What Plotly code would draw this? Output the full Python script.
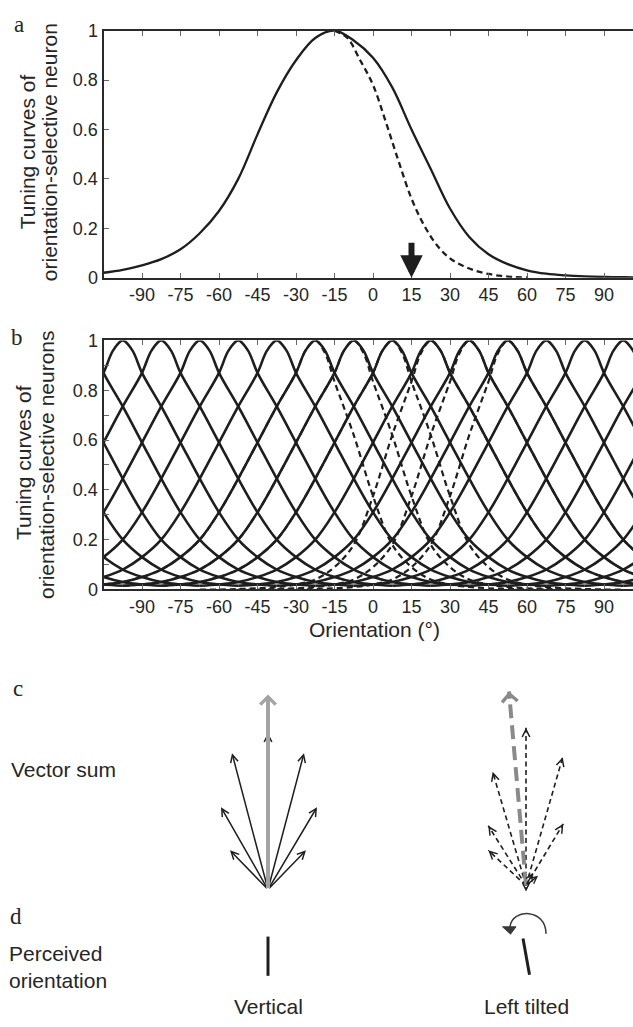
import plotly.graph_objects as go

W, H = 633, 1027

# ---------------- data ----------------
tick_vals = [-90, -75, -60, -45, -30, -15, 0, 15, 30, 45, 60, 75, 90]
tick_text = ["-90", "-75", "-60", "-45", "-30", "-15", "0", "15", "30", "45", "60", "75", "90"]
y_tick_vals = [0, 0.2, 0.4, 0.6, 0.8, 1]
y_tick_text = ["0", "0.2", "0.4", "0.6", "0.8", "1"]

# panel a: one neuron (preferred -15 deg), before (solid) and after adaptation (dashed)
a_orient = [-105, -97.5, -90, -82.5, -75, -67.5, -60, -52.5, -45, -37.5, -30, -22.5, -15,
            -7.5, 0, 7.5, 15, 22.5, 30, 37.5, 45, 52.5, 60, 67.5, 75, 82.5, 90, 97.5, 105]
a_before = [0.02, 0.032, 0.05, 0.075, 0.115, 0.18, 0.27, 0.40, 0.58, 0.75, 0.88, 0.97, 1.0,
            0.96, 0.89, 0.77, 0.60, 0.44, 0.28, 0.165, 0.095, 0.055, 0.03, 0.016, 0.009,
            0.005, 0.003, 0.002, 0.001]
a_after_orient = [-15, -10, -5, 0, 5, 10, 15, 20, 25, 30, 35, 40, 45, 50, 55, 60]
a_after = [1.0, 0.97, 0.88, 0.78, 0.63, 0.47, 0.32, 0.21, 0.13, 0.078, 0.048, 0.028, 0.015,
           0.007, 0.003, 0.001]
adaptor_orient = 15
adaptor_arrow_top = 0.147

# panel b: population of neurons, tuning profile vs distance from preferred orientation
b_delta = [0, 3.75, 7.5, 15, 22.5, 30, 37.5, 45, 52.5, 60, 67.5, 75, 82.5, 90]
b_tuning = [1.0, 0.96, 0.87, 0.735, 0.59, 0.445, 0.31, 0.20, 0.13, 0.08, 0.05, 0.03, 0.02, 0.015]
b_narrowed = [1.0, 0.95, 0.835, 0.62, 0.375, 0.18, 0.09, 0.04, 0.02, 0.01, 0.005, 0.002, 0.0, 0.0]
b_prefs = [-187.5, -172.5, -157.5, -142.5, -127.5, -112.5, -97.5, -82.5, -67.5, -52.5, -37.5,
           -22.5, -7.5, 7.5, 22.5, 37.5, 52.5, 67.5, 82.5, 97.5, 112.5, 127.5, 142.5, 157.5,
           172.5, 187.5]
b_adapted_right_narrow = [-22.5, -7.5, 7.5]   # flank toward adaptor (right) narrowed
b_adapted_left_narrow = [22.5, 37.5, 52.5]    # flank toward adaptor (left) narrowed

# panel c: vector sums (diagram, pixel coordinates)
c_left_origin = (268, 897)
c_left_sum_tip = (268, 698)
c_left_tips_x = [268, 232, 304, 221, 317, 230, 306]
c_left_tips_y = [737, 758, 758, 813, 813, 857, 857]
c_right_origin = (526, 893)
c_right_sum_tip = (509, 695)
c_right_tips_x = [526, 492.7, 562.7, 488.3, 563.3, 488.3]
c_right_tips_y = [732, 777, 762, 832, 830, 857]
c_right_small_tips_x = [538, 533, 526]
c_right_small_tips_y = [883, 880, 899]

# panel d: perceived orientation bars
d_vertical_bar = ((268, 945), (268, 985))
d_tilted_bar = ((523, 947), (529.5, 984))
d_rot_arc = "M 546,942 C 546,916 512,916 510,935"
d_rot_head = "M 502.5,935 L 516,935 L 510.5,942.5 Z"

# ---------------- helpers ----------------
def px(x):
    return x / W


def py(y):
    return 1 - y / H


INK = "#1e1e1e"
TXT = "#262626"
SANS = "Liberation Sans, Arial, sans-serif"
SERIF = "Liberation Serif, Times New Roman, serif"

X_LEFT = 103.5
DEG_PX = 462 / 180
XMIN = -105
XMAX = XMIN + (W - X_LEFT) / DEG_PX

A_TOP, A_BOT = 21, 273
B_TOP, B_BOT = 337, 591
DIAG_TOP = 640

fig = go.Figure()

# ---------- panel a ----------
fig.add_trace(go.Scatter(x=a_orient, y=a_before, mode="lines",
                         line=dict(color=INK, width=2.3, shape="spline", smoothing=1),
                         xaxis="x", yaxis="y", hoverinfo="skip", showlegend=False))
fig.add_trace(go.Scatter(x=a_after_orient, y=a_after, mode="lines",
                         line=dict(color=INK, width=2.3, dash="6px,4px", shape="spline", smoothing=1),
                         xaxis="x", yaxis="y", hoverinfo="skip", showlegend=False))

# ---------- panel b ----------
def full_curve(pref, left_prof, right_prof):
    xs = [pref - d for d in reversed(b_delta[1:])] + [pref + d for d in b_delta]
    ys = list(reversed(left_prof[1:])) + list(right_prof)
    return xs, ys


for p in b_prefs:
    xs, ys = full_curve(p, b_tuning, b_tuning)
    fig.add_trace(go.Scatter(x=xs, y=ys, mode="lines",
                             line=dict(color=INK, width=2.6, shape="spline", smoothing=1),
                             xaxis="x2", yaxis="y2", hoverinfo="skip", showlegend=False))
for p in b_adapted_right_narrow:
    xs, ys = full_curve(p, b_tuning, b_narrowed)
    fig.add_trace(go.Scatter(x=xs, y=ys, mode="lines",
                             line=dict(color=INK, width=2.2, dash="6px,4px", shape="spline", smoothing=1),
                             xaxis="x2", yaxis="y2", hoverinfo="skip", showlegend=False))
for p in b_adapted_left_narrow:
    xs, ys = full_curve(p, b_narrowed, b_tuning)
    fig.add_trace(go.Scatter(x=xs, y=ys, mode="lines",
                             line=dict(color=INK, width=2.2, dash="6px,4px", shape="spline", smoothing=1),
                             xaxis="x2", yaxis="y2", hoverinfo="skip", showlegend=False))

# ---------- panel c dashed shafts ----------
ox, oy = c_right_origin
sx, sy = c_right_sum_tip
for tx, ty in zip(c_right_tips_x, c_right_tips_y):
    fig.add_trace(go.Scatter(x=[ox, tx], y=[oy, ty], mode="lines",
                             line=dict(color=INK, width=1.6, dash="5px,3.5px"),
                             xaxis="x3", yaxis="y3", hoverinfo="skip", showlegend=False))
fig.add_trace(go.Scatter(x=[ox, sx], y=[oy, sy], mode="lines",
                         line=dict(color="#8a8a8a", width=4, dash="14px,7px"),
                         xaxis="x3", yaxis="y3", hoverinfo="skip", showlegend=False))

# ---------- panel d bars ----------
for (x0, y0), (x1, y1) in [d_vertical_bar, d_tilted_bar]:
    fig.add_trace(go.Scatter(x=[x0, x1], y=[y0, y1], mode="lines",
                             line=dict(color=INK, width=3),
                             xaxis="x3", yaxis="y3", hoverinfo="skip", showlegend=False))

annotations = []


def arrow(tip, tail, color, width, head, size):
    annotations.append(dict(x=tip[0], y=tip[1], ax=tail[0], ay=tail[1],
                            xref="x3", yref="y3", axref="x3", ayref="y3",
                            showarrow=True, arrowhead=head, arrowsize=size,
                            arrowwidth=width, arrowcolor=color, text=""))


def short_tail(tip, origin, length):
    dx, dy = tip[0] - origin[0], tip[1] - origin[1]
    n = (dx * dx + dy * dy) ** 0.5
    return (tip[0] - dx / n * length, tip[1] - dy / n * length)


# left fan: black vectors then gray solid sum on top
for tx, ty in zip(c_left_tips_x, c_left_tips_y):
    arrow((tx, ty), c_left_origin, INK, 1.5, 5, 1.0)
arrow(c_left_sum_tip, c_left_origin, "#a3a3a3", 4, 4, 0.75)
# right fan heads
for tx, ty in zip(c_right_tips_x, c_right_tips_y):
    arrow((tx, ty), short_tail((tx, ty), c_right_origin, 6), INK, 1.5, 5, 1.0)
for tx, ty in zip(c_right_small_tips_x, c_right_small_tips_y):
    arrow((tx, ty), c_right_origin, INK, 1.5, 5, 0.9)
arrow(c_right_sum_tip, short_tail(c_right_sum_tip, c_right_origin, 9), "#8a8a8a", 4, 4, 0.75)


def text(t, x, y, size=21, family=SANS, xanchor="center", angle=0):
    annotations.append(dict(text=t, x=px(x), y=py(y), xref="paper", yref="paper",
                            showarrow=False, xanchor=xanchor, yanchor="middle",
                            textangle=angle, font=dict(family=family, size=size, color=TXT)))


text("a", 19, 15, 23, SERIF)
text("b", 17, 334, 23, SERIF)
text("c", 18, 692, 23, SERIF)
text("d", 16, 924, 23, SERIF)
text("Tuning curves of", 27, 145, angle=-90)
text("orientation-selective neuron", 49, 145, angle=-90)
text("Tuning curves of", 23, 462, angle=-90)
text("orientation-selective neurons", 47, 464, angle=-90)
text("Orientation (°)", 374, 632)
text("Vector sum", 9, 775, xanchor="left")
text("Perceived", 7, 962, xanchor="left")
text("orientation", 7, 990, xanchor="left")
text("Vertical", 268, 1016)
text("Left tilted", 526, 1016)

# adaptor arrow in panel a
annotations.append(dict(x=adaptor_orient, y=0, ax=adaptor_orient, ay=adaptor_arrow_top,
                        xref="x", yref="y", axref="x", ayref="y", showarrow=True,
                        arrowhead=2, arrowsize=0.75, arrowwidth=6, arrowcolor=INK, text=""))

shapes = [
    dict(type="path", path=d_rot_arc, xref="x3", yref="y3",
         line=dict(color="#3a3a3a", width=1.6)),
    dict(type="path", path=d_rot_head, xref="x3", yref="y3",
         line=dict(color="#3a3a3a", width=1), fillcolor="#3a3a3a"),
]


def xaxis_cfg():
    return dict(range=[XMIN, XMAX], domain=[px(X_LEFT), 1], showline=True, linewidth=2,
                linecolor="#2a2a2a", mirror="allticks", ticks="inside", ticklen=5,
                tickwidth=1.2, tickcolor="#666", tickvals=tick_vals, ticktext=tick_text,
                showgrid=False, zeroline=False, fixedrange=True,
                tickfont=dict(family=SANS, size=18, color=TXT))


def yaxis_cfg(top, bot, minor):
    d = dict(range=[0, 1], domain=[py(bot), py(top)], showline=True, linewidth=2,
             linecolor="#2a2a2a", mirror=False, ticks="inside", ticklen=5, tickwidth=1.2,
             tickcolor="#666", tickvals=y_tick_vals, ticktext=y_tick_text, showgrid=False,
             zeroline=False, fixedrange=True, tickfont=dict(family=SANS, size=18, color=TXT))
    if minor:
        d["minor"] = dict(dtick=0.1, ticks="inside", ticklen=5, tickcolor="#666", tickwidth=1.2)
    return d


fig.update_layout(
    width=W, height=H,
    margin=dict(l=0, r=0, t=0, b=0, pad=0),
    paper_bgcolor="white", plot_bgcolor="rgba(0,0,0,0)",
    xaxis=dict(xaxis_cfg(), anchor="y"), yaxis=dict(yaxis_cfg(A_TOP, A_BOT, False), anchor="x"),
    xaxis2=dict(xaxis_cfg(), anchor="y2"),
    yaxis2=dict(yaxis_cfg(B_TOP, B_BOT, True), anchor="x2"),
    xaxis3=dict(range=[0, W], domain=[0, 1], visible=False, anchor="y3", fixedrange=True),
    yaxis3=dict(range=[H, DIAG_TOP], domain=[0, py(DIAG_TOP)], visible=False, anchor="x3",
                fixedrange=True),
    annotations=annotations,
    shapes=shapes,
    showlegend=False,
)

fig.write_html("out.html", config={"displayModeBar": False},
               post_script="document.body.style.margin='0';document.body.style.padding='0';"
                           "var g=document.querySelector('.plotly-graph-div');"
                           "g.style.position='fixed';g.style.top='0';g.style.left='0';")
